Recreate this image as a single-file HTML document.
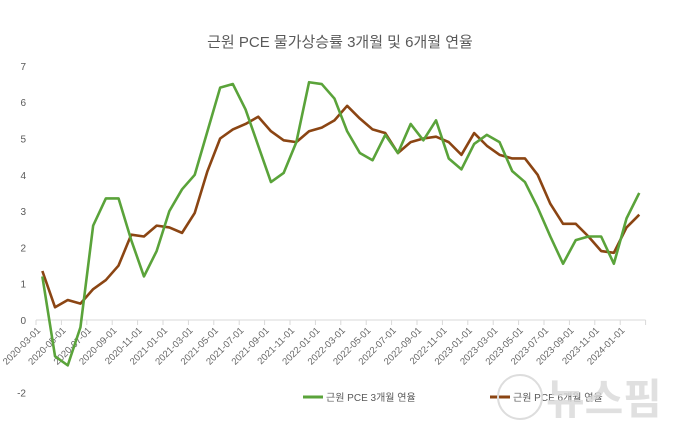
<!DOCTYPE html>
<html><head><meta charset="utf-8">
<style>
body{margin:0;background:#fff;}
svg{display:block;font-family:"Liberation Sans","Noto Sans CJK KR",sans-serif;}
</style></head>
<body>
<svg id="chart" width="680" height="431" viewBox="0 0 680 431">
<rect width="680" height="431" fill="#fff"/>
<text x="340" y="47" text-anchor="middle" font-size="15" fill="#595959">근원 PCE 물가상승률 3개월 및 6개월 연율</text>
<g id="yaxis"></g>
<g id="xaxis"></g>
<g id="series"></g>
<g>
<line x1="303" y1="397" x2="323" y2="397" stroke="#5aa33a" stroke-width="3"/>
<text x="326" y="401" font-size="10" fill="#595959">근원 PCE 3개월 연율</text>
<line x1="490" y1="397" x2="510" y2="397" stroke="#8b4513" stroke-width="3"/>
<text x="513" y="401" font-size="10" fill="#595959">근원 PCE 6개월 연율</text>
</g>
<text x="546" y="414" font-size="42" font-weight="bold" fill="#d8d8d8" fill-opacity="0.8">뉴스핌</text>
<circle cx="520" cy="397" r="22" fill="none" stroke="#ddd" stroke-width="2"/>
</svg>
<script>
const months=["2020-03-01","2020-04-01","2020-05-01","2020-06-01","2020-07-01","2020-08-01","2020-09-01","2020-10-01","2020-11-01","2020-12-01",
"2021-01-01","2021-02-01","2021-03-01","2021-04-01","2021-05-01","2021-06-01","2021-07-01","2021-08-01","2021-09-01","2021-10-01","2021-11-01","2021-12-01",
"2022-01-01","2022-02-01","2022-03-01","2022-04-01","2022-05-01","2022-06-01","2022-07-01","2022-08-01","2022-09-01","2022-10-01","2022-11-01","2022-12-01",
"2023-01-01","2023-02-01","2023-03-01","2023-04-01","2023-05-01","2023-06-01","2023-07-01","2023-08-01","2023-09-01","2023-10-01","2023-11-01","2023-12-01",
"2024-01-01","2024-02-01"];
const pce3m=[1.2,-1.0,-1.25,-0.2,2.6,3.35,3.35,2.2,1.2,1.9,3.0,3.6,4.0,5.2,6.4,6.5,5.8,4.8,3.8,4.05,4.9,6.55,6.5,6.1,5.2,4.6,4.4,5.1,4.6,5.4,4.95,5.5,4.45,4.15,4.85,5.1,4.9,4.1,3.8,3.1,2.3,1.55,2.2,2.3,2.3,1.55,2.8,3.5];
const pce6m=[1.35,0.35,0.55,0.45,0.85,1.1,1.5,2.35,2.3,2.6,2.55,2.4,2.95,4.1,5.0,5.25,5.4,5.6,5.2,4.95,4.9,5.2,5.3,5.5,5.9,5.55,5.25,5.15,4.6,4.9,5.0,5.05,4.9,4.55,5.15,4.8,4.55,4.45,4.45,4.0,3.2,2.65,2.65,2.3,1.9,1.85,2.55,2.9];
const yTicks=[-2,0,1,2,3,4,5,6,7];
const NS="http://www.w3.org/2000/svg";
const x0=36,step=12.7;
const xs=i=>x0+step*(i+0.5);
const ys=v=>320-v*36.3;
function mk(t,a,p){const e=document.createElementNS(NS,t);for(const k in a)e.setAttribute(k,a[k]);p.appendChild(e);return e;}
const ya=document.getElementById('yaxis'),xa=document.getElementById('xaxis'),sg=document.getElementById('series');
yTicks.forEach(v=>{const t=mk('text',{x:26,y:ys(v)+4,'text-anchor':'end','font-size':10,fill:'#595959'},ya);t.textContent=v;

});
const ax=mk('line',{x1:x0,y1:ys(0),x2:x0+step*months.length,y2:ys(0),stroke:'#d9d9d9','stroke-width':1},xa);


for(let i=0;i<=months.length;i+=2){
const tx=x0+step*i;
const tk=mk('line',{x1:tx,y1:ys(0),x2:tx,y2:ys(0)+5,stroke:'#d9d9d9'},xa);


if(i<months.length){
const t=mk('text',{x:tx+5,y:ys(0)+11,'text-anchor':'end','font-size':9.5,fill:'#666',transform:`rotate(-45 ${tx+5} ${ys(0)+11})`},xa);
t.textContent=months[i];

}
}
function line(d,c,n){const p=mk('polyline',{points:d.map((v,i)=>xs(i)+','+ys(v)).join(' '),fill:'none',stroke:c,'stroke-width':2.6,'stroke-linejoin':'round'},sg);

}
line(pce6m,'#8b4513','line-6m');
line(pce3m,'#5aa33a','line-3m');
</script>
</body></html>
